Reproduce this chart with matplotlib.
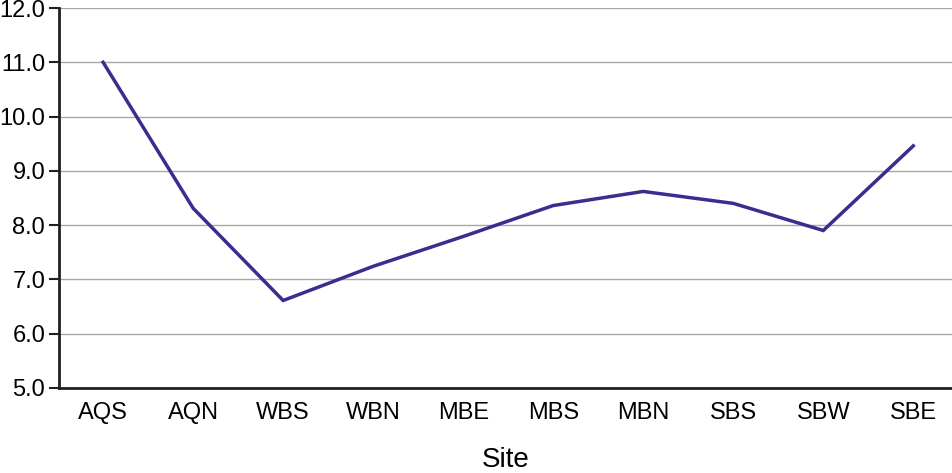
import matplotlib
matplotlib.use("Agg")
import matplotlib.pyplot as plt
import numpy as np

sites = ["AQS", "AQN", "WBS", "WBN", "MBE", "MBS", "MBN", "SBS", "SBW", "SBE"]
values = [11.0, 8.31, 6.61, 7.24, 7.79, 8.36, 8.62, 8.40, 7.90, 9.46]
y_ticks = [5.0, 6.0, 7.0, 8.0, 9.0, 10.0, 11.0, 12.0]

plt.rcParams['font.family'] = ['Liberation Sans', 'DejaVu Sans']


def main():
    fig = plt.figure(figsize=(9.52, 4.73), dpi=100)
    ax = fig.add_axes([0.062, 0.18, 0.938, 0.803])
    x = np.arange(len(sites))
    ax.plot(x, values, color="#3a2d8f", linewidth=2.5, solid_joinstyle="miter", zorder=3)

    ax.set_xlim(-0.49, 9.43)
    ax.set_ylim(5.0, 12.0)
    ax.set_yticks(y_ticks)
    ax.set_yticklabels(["%.1f" % v for v in y_ticks])
    ax.set_xticks(x)
    ax.set_xticklabels(sites)
    ax.grid(axis="y", color="#a8a8a8", linewidth=1.0)
    ax.set_axisbelow(True)

    for side in ["top", "right"]:
        ax.spines[side].set_visible(False)
    for side in ["left", "bottom"]:
        ax.spines[side].set_color("#231f20")
        ax.spines[side].set_linewidth(2.0)

    ax.tick_params(axis="y", length=7, width=1.5, color="#231f20", labelsize=17, pad=3)
    ax.tick_params(axis="x", length=0, labelsize=17, pad=10)
    ax.set_xlabel("Site", fontsize=20, labelpad=17)

    fig.savefig("out.png", dpi=100)


if __name__ == "__main__":
    main()
